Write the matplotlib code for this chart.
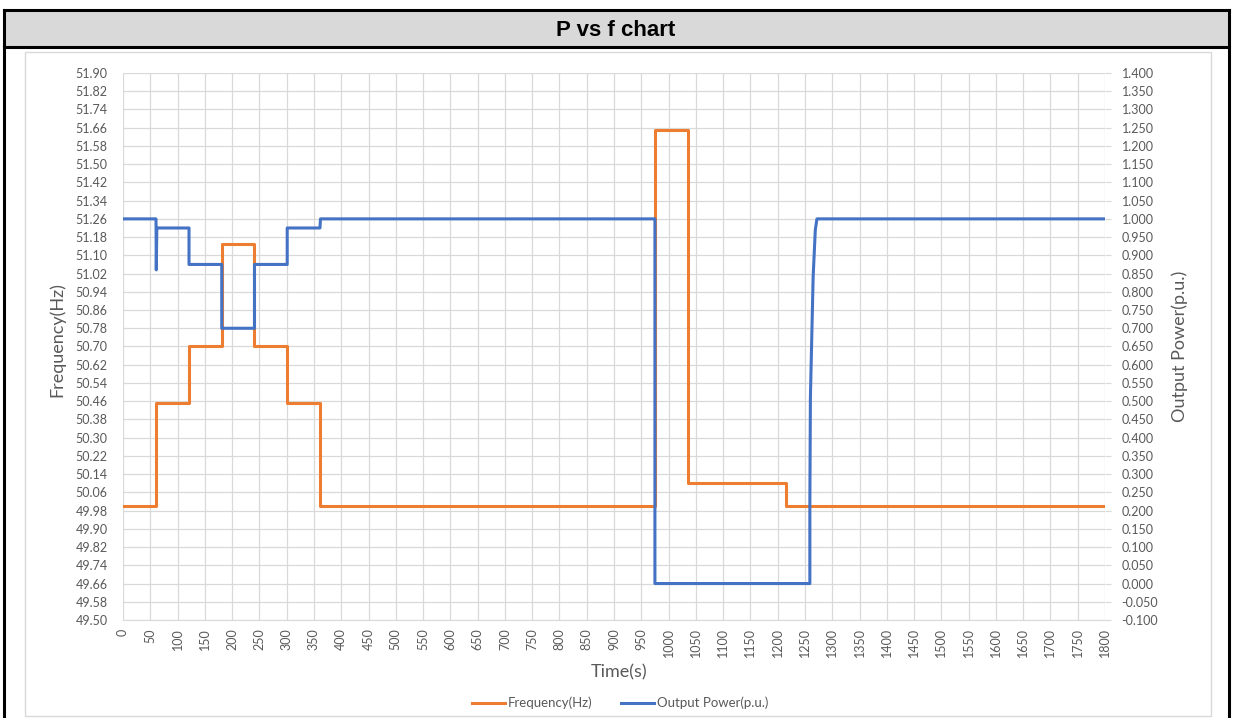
import numpy as np
import matplotlib.pyplot as plt
from matplotlib.patches import Rectangle
from matplotlib.lines import Line2D

# frequency: step levels between change times (s, Hz)
freq_times = [0, 61, 121, 181, 241, 301, 361, 975, 1035, 1216, 1800]
freq_levels = [50.00, 50.45, 50.70, 51.15, 50.70, 50.45, 50.00, 51.65, 50.10, 50.00, 50.00]

# output power: polyline points (s, p.u.)
power_t = [0, 60.5, 61, 62, 121, 121, 181, 181, 241, 241, 301, 301, 361, 362,
           975, 975, 1259, 1259, 1260, 1265, 1269, 1272, 1800]
power_v = [1.000, 1.000, 0.860, 0.975, 0.975, 0.875, 0.875, 0.700, 0.700, 0.875,
           0.875, 0.975, 0.975, 1.000, 1.000, 0.000, 0.000, 0.220, 0.510, 0.840,
           0.970, 1.000, 1.000]

freq_ticks = np.round(np.arange(49.50, 51.90 + 1e-6, 0.08), 2)
power_ticks = np.round(np.arange(-0.10, 1.40 + 1e-6, 0.05), 3)
time_ticks = np.arange(0, 1801, 50)

W, H = 1234, 718
plt.rcParams['font.family'] = ['Lato', 'DejaVu Sans']
txt_col = '#595959'
grid_col = '#d9d9d9'
orange = '#ED7D31'
blue = '#4472C4'

fig = plt.figure(figsize=(W / 100, H / 100), dpi=100)


def fx(x):
    return x / W


def fy(y):
    return 1 - y / H


# table-like frame with header
fig.add_artist(Rectangle((fx(4), fy(47)), fx(1229) - fx(4), fy(10) - fy(47),
                         transform=fig.transFigure, facecolor='#d9d9d9',
                         edgecolor='none'))
for xs, ys in [([4, 1229], [10, 10]), ([4, 1229], [47, 47]),
               ([4, 4], [10, 720]), ([1229, 1229], [10, 720])]:
    fig.add_artist(Line2D([fx(v) for v in xs], [fy(v) for v in ys],
                          transform=fig.transFigure, color='black', lw=2.2))
fig.text(fx(616), fy(30), 'P vs f chart', ha='center', va='center',
         fontsize=16, fontweight='bold', family='Liberation Sans')
fig.add_artist(Rectangle((fx(25), fy(716)), fx(1211) - fx(25), fy(52) - fy(716),
                         transform=fig.transFigure, facecolor='none',
                         edgecolor=grid_col, lw=1))

ax = fig.add_axes([fx(123), fy(620), fx(1105) - fx(123), fy(73) - fy(620)])
ax2 = ax.twinx()

ax.step(freq_times, freq_levels, where='post', color=orange, lw=2.2,
        label='Frequency(Hz)', zorder=3)
ax2.plot(power_t, power_v, color=blue, lw=2.2, label='Output Power(p.u.)',
         zorder=3)

ax.set_xlim(0, 1800)
ax.set_ylim(49.50, 51.90)
ax2.set_ylim(-0.10, 1.40)

ax.set_xticks(time_ticks)
ax.set_xticklabels([str(t) for t in time_ticks], rotation=90)
ax.set_yticks(freq_ticks)
ax.set_yticklabels(['%.2f' % v for v in freq_ticks])
ax2.set_yticks(power_ticks)
ax2.set_yticklabels(['%.3f' % v for v in power_ticks])

ax.grid(True, color=grid_col, lw=0.9)
ax.set_axisbelow(True)
for a in (ax, ax2):
    for s in ('top', 'left', 'right'):
        a.spines[s].set_visible(False)
ax.spines['bottom'].set_color(grid_col)
ax2.spines['bottom'].set_visible(False)

ax.tick_params(axis='y', length=0, pad=11, labelsize=9, labelcolor=txt_col)
ax.tick_params(axis='x', length=0, pad=6, labelsize=9, labelcolor=txt_col)
ax2.tick_params(axis='y', length=4, color=grid_col, pad=8, labelsize=9,
                labelcolor=txt_col)

fig.text(fx(57), fy(340), 'Frequency(Hz)', rotation=90, ha='center',
         va='center', fontsize=13, color=txt_col)
fig.text(fx(1180), fy(346), 'Output Power(p.u.)', rotation=90, ha='center',
         va='center', fontsize=13, color=txt_col)
fig.text(fx(619), fy(672), 'Time(s)', ha='center', va='center',
         fontsize=13, color=txt_col)

h1, l1 = ax.get_legend_handles_labels()
h2, l2 = ax2.get_legend_handles_labels()
fig.legend(h1 + h2, l1 + l2, loc='center', bbox_to_anchor=(fx(620), fy(703)),
           ncol=2, frameon=False, fontsize=9.5, labelcolor=txt_col,
           handlelength=2.5, handletextpad=0.2, columnspacing=2.2)

fig.savefig('out.png', dpi=100)
